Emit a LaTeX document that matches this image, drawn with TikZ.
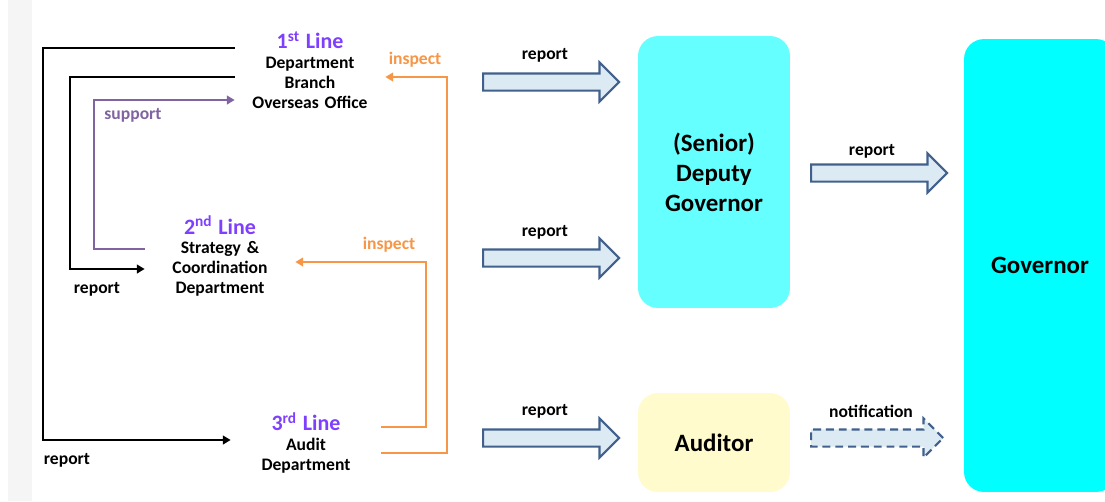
\documentclass[tikz,border=0pt]{standalone}
\usepackage{fontspec}
\setmainfont{Carlito}
\usepackage{tikz}
\usetikzlibrary{arrows.meta, shapes.arrows}
\definecolor{linepurple}{HTML}{7F3FFF}
\definecolor{supportpurple}{HTML}{8064A2}
\definecolor{inspectorange}{HTML}{F79646}
\definecolor{arrowedge}{HTML}{41618C}
\definecolor{arrowfill}{HTML}{DCEAF3}
\definecolor{deputycyan}{HTML}{66FFFF}
\definecolor{govcyan}{HTML}{00FFFF}
\definecolor{auditcream}{HTML}{FFFBCC}
\newcommand{\LineTitle}[2]{{\fontsize{12.5}{15}\selectfont\color{linepurple}#1\textsuperscript{#2} Line}}

\begin{document}
\begin{tikzpicture}[x=0.02cm, y=-0.02cm, font=\bfseries\fontsize{10}{11.3}\selectfont,
    linebox/.style={align=center, text width=3cm, inner xsep=0pt},
    bigbox/.style={rounded corners=0.4cm, minimum width=3.04cm, align=center,
        font=\bfseries\fontsize{14.2}{17}\selectfont},
    bigarrow/.style={single arrow, draw=arrowedge, fill=arrowfill, line width=1.2pt,
        minimum height=2.72cm, single arrow head extend=0.22cm,
        inner xsep=0pt, inner ysep=0.15cm, anchor=west},
    blk/.style={line width=1.2pt, -{Triangle[length=4.5pt,width=5pt]}},
    sup/.style={blk, supportpurple},
    insp/.style={line width=1.3pt, inspectorange, -{Triangle[length=4.5pt,width=5pt]}}]
    \clip (0,0) rectangle (1105,501);
    \fill[white] (0,0) rectangle (1105,501);
    \fill[black!4] (8,0) rectangle (32,501);

    % The three lines
    \node[linebox] (first) at (310,70) {\LineTitle{1}{st}\\Department\\Branch\\Overseas Office};
    \node[linebox] (second) at (220,256) {\LineTitle{2}{nd}\\Strategy \&\\Coordination\\Department};
    \node[linebox] (third) at (306,443) {\LineTitle{3}{rd}\\Audit\\Department};

    % Reporting lines on the left
    \draw[blk] (first.west |- 0,48) -| (43,440) -- (third.west |- 0,440);
    \draw[blk] (first.west |- 0,77) -| (70,269) -- (second.west |- 0,269);
    \draw[sup] (second.west |- 0,249) -| (94,100) -- (first.west |- 0,100);
    \node (rep2) at (97,289) {report};
    \node (rep3) at (67,460) {report};
    \node[supportpurple] (supp) at (133,115) {support};

    % Inspection by the 3rd line
    \draw[insp] (third.east |- 0,453) -| (447,77) -- (first.east |- 0,77);
    \draw[insp] (third.east |- 0,427) -| (426,262) -- (second.east |- 0,262);
    \node[inspectorange] (insp1) at (415,60) {inspect};
    \node[inspectorange] (insp2) at (389,245) {inspect};

    % Boxes
    \node[bigbox, fill=deputycyan, minimum height=5.44cm] (deputy) at (714,172) {(Senior)\\Deputy\\Governor};
    \node[bigbox, fill=auditcream, minimum height=1.98cm] (auditor) at (714,442.5) {Auditor};
    \node[bigbox, fill=govcyan, minimum height=9.06cm] (gov) at (1040,265.5) {Governor};

    % Block arrows
    \node[bigarrow] (up1) at (482,82) {};
    \node[bigarrow] (up2) at (482,258) {};
    \node[bigarrow] (up3) at (482,438) {};
    \node[bigarrow] (up4) at (810,173) {};
    \node[bigarrow, dashed, dash pattern=on 4.5pt off 2.8pt, minimum height=2.64cm] (note) at (810,438) {};
    \foreach \n/\y in {r1/55, r2/232, r3/411} {
        \node (\n) at (545,\y) {report};
    }
    \node (r4) at (872,151) {report};
    \node (notif) at (871,411) {notification};
\end{tikzpicture}
\end{document}
